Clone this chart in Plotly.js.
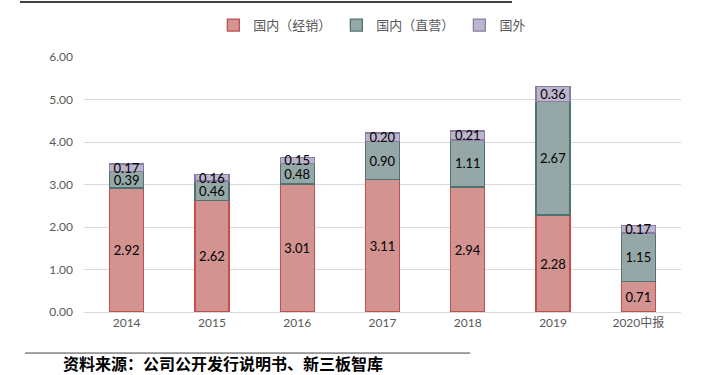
<!DOCTYPE html>
<html><head><meta charset="utf-8">
<script src="https://cdn.plot.ly/plotly-3.0.1.min.js"></script>
<style>body{margin:0;background:#fff}#c{width:711px;height:375px}</style>
</head><body><div id="c"></div>
<script>
const categories = ['2014','2015','2016','2017','2018','2019','2020中报'];
const domesticDist = [2.92,2.62,3.01,3.11,2.94,2.28,0.71];
const domesticDirect = [0.39,0.46,0.48,0.90,1.11,2.67,1.15];
const overseas = [0.17,0.16,0.15,0.20,0.21,0.36,0.17];
const seriesNames = ['国内（经销）','国内（直营）','国外'];
const yTicks = [0,1,2,3,4,5,6];

const fam = 'Lato, "Noto Sans CJK SC", sans-serif';
function tr(name, y, fill, line){
  return {type:'bar', name:name, x:categories, y:y,
    marker:{color:fill, line:{color:line, width:1.3}},
    text:y.map(v=>v.toFixed(2)), textposition:'inside', insidetextanchor:'middle',
    constraintext:'none', textfont:{family:fam, size:13, color:'#000'},
    hoverinfo:'none', width:0.4};
}
const data = [
  tr(seriesNames[0], domesticDist, '#d39390', '#c0504d'),
  tr(seriesNames[1], domesticDirect, '#95a8a7', '#4f7272'),
  tr(seriesNames[2], overseas, '#bdb5cc', '#8b7ca3')
];
const layout = {
  width:711, height:375, barmode:'stack',
  paper_bgcolor:'#fff', plot_bgcolor:'#fff',
  margin:{l:84, r:30, t:57, b:63, autoexpand:false},
  font:{family:fam, color:'#595959', size:12},
  showlegend:true,
  legend:{orientation:'h', x:0.483, xanchor:'center', y:1.125, yanchor:'middle',
    bgcolor:'rgba(0,0,0,0)',
    font:{family:'"Noto Sans CJK SC", sans-serif', size:13, color:'#595959'},
    traceorder:'normal', itemwidth:30},
  xaxis:{type:'category', showgrid:false, showline:true, linecolor:'#d9d9d9', linewidth:1,
    tickfont:{size:12, color:'#595959', family:fam}, ticks:'', automargin:false},
  yaxis:{range:[0,6], tickvals:yTicks, ticktext:yTicks.map(v=>v.toFixed(2)),
    showgrid:true, gridcolor:'#d9d9d9', zeroline:false, showline:false,
    tickfont:{size:12, color:'#595959', family:fam}, ticks:'', ticklabelstandoff:10, automargin:false},
  shapes:[
    {type:'line', xref:'paper', yref:'paper', x0:-0.1072, x1:0.717, y0:1.2157, y1:1.2157, line:{color:'#404040', width:2}},
    {type:'line', xref:'paper', yref:'paper', x0:-0.0988, x1:0.6466, y0:-0.161, y1:-0.161, line:{color:'#404040', width:1}}
  ],
  annotations:[
    {xref:'paper', yref:'paper', x:-0.0369, y:-0.2, xanchor:'left', yanchor:'middle', showarrow:false,
     text:'<b>资料来源：公司公开发行说明书、新三板智库</b>', borderpad:0,
     font:{family:'"Noto Sans CJK SC", sans-serif', size:16, color:'#000'}}
  ]
};
Plotly.newPlot('c', data, layout, {displayModeBar:false, staticPlot:true});
</script></body></html>
